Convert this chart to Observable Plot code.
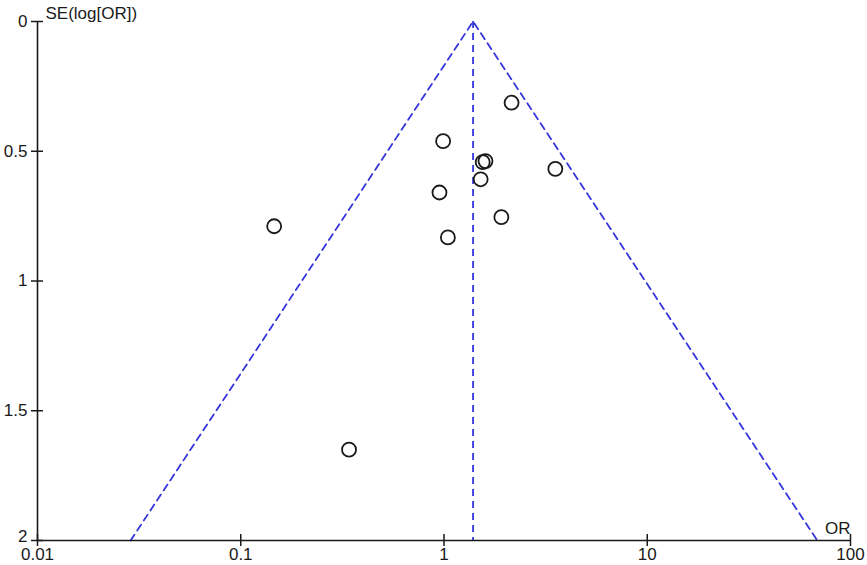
<!DOCTYPE html>
<html>
<head>
<meta charset="utf-8">
<script src="https://cdn.jsdelivr.net/npm/d3@7"></script>
<script src="https://cdn.jsdelivr.net/npm/@observablehq/plot@0.6"></script>
<style>
  html, body { margin: 0; padding: 0; background: #fff; }
  #chart svg { display: block; }
</style>
</head>
<body>
<div id="chart"></div>
<script>
// Study odds ratios and standard errors of log(OR)
const studyOR = [2.15, 0.99, 1.55, 1.60, 3.53, 1.515, 0.95, 1.915, 1.045, 0.146, 0.341];
const studySE = [0.313, 0.461, 0.542, 0.538, 0.568, 0.608, 0.659, 0.754, 0.832, 0.789, 1.650];

// Pooled estimate and funnel (95% pseudo-confidence limits) endpoints
const pooledOR = 1.39;
const funnelOR = [0.0287, 1.39, 68.7];
const funnelSE = [2, 0, 2];

// Axis ticks and labels
const xTicks = [0.01, 0.1, 1, 10, 100];
const xTickLabels = ["0.01", "0.1", "1", "10", "100"];
const yTicks = [0, 0.5, 1, 1.5, 2];
const yTickLabels = ["0", "0.5", "1", "1.5", "2"];
const yTitle = "SE(log[OR])";
const xTitle = "OR";

const studies = studyOR.map((or, i) => ({or, se: studySE[i]}));
const funnel = funnelOR.map((or, i) => ({or, se: funnelSE[i]}));
const xT = xTicks.map((v, i) => ({v, label: xTickLabels[i]}));
const yT = yTicks.map((v, i) => ({v, label: yTickLabels[i]}));

const xMin = xTicks[0], xMax = xTicks[xTicks.length - 1];
const yMin = yTicks[0], yMax = yTicks[yTicks.length - 1];

const blue = "#3535dc";
const ink = "#1a1a1a";
const font = "Liberation Sans, Arial, sans-serif";
const fs = 17;

const chart = Plot.plot({
  width: 867,
  height: 565,
  marginLeft: 37,
  marginRight: 17,
  marginTop: 21,
  marginBottom: 25,
  style: {fontFamily: font, background: "#fff", overflow: "visible"},
  x: {type: "log", domain: [xMin, xMax], range: [37, 850], axis: null},
  y: {domain: [yMin, yMax], range: [21, 540], axis: null},
  marks: [
    // funnel
    Plot.line(funnel, {x: "or", y: "se", stroke: blue, strokeWidth: 1.8, strokeDasharray: "7,5"}),
    Plot.ruleX([pooledOR], {y1: yMin, y2: yMax, stroke: blue, strokeWidth: 1.8, strokeDasharray: "7,5"}),
    // axes lines
    Plot.ruleX([xMin], {y1: yMin, y2: yMax, stroke: ink, strokeWidth: 1.6}),
    Plot.ruleY([yMax], {x1: xMin, x2: xMax, stroke: ink, strokeWidth: 1.6}),
    // crossing tick marks
    Plot.ruleY(yT, {y: "v", x1: xMin, x2: xMin, insetLeft: -6, insetRight: -6, stroke: ink, strokeWidth: 1.5}),
    Plot.ruleX(xT, {x: "v", y1: yMax, y2: yMax, insetTop: -6, insetBottom: -6, stroke: ink, strokeWidth: 1.5}),
    // tick labels
    Plot.text(yT.filter(d => d.v !== yMax), {x: xMin, y: "v", text: "label", textAnchor: "end", dx: -10, fontSize: fs, fill: ink}),
    Plot.text(yT.filter(d => d.v === yMax), {x: xMin, y: "v", text: "label", textAnchor: "end", dx: -10, dy: -4, fontSize: fs, fill: ink}),
    Plot.text(xT, {x: "v", y: yMax, text: "label", lineAnchor: "top", dy: 7, fontSize: fs, fill: ink}),
    // axis titles
    Plot.text([yTitle], {x: xMin, y: yMin, text: d => d, textAnchor: "start", lineAnchor: "bottom", dx: 8, dy: -3, fontSize: fs, fill: ink}),
    Plot.text([xTitle], {x: xMax, y: yMax, text: d => d, textAnchor: "end", lineAnchor: "bottom", dx: 0, dy: -7, fontSize: fs, fill: ink}),
    // studies
    Plot.dot(studies, {x: "or", y: "se", r: 7, stroke: ink, strokeWidth: 1.8, fill: "none"})
  ]
});
document.getElementById("chart").appendChild(chart);
</script>
</body>
</html>
